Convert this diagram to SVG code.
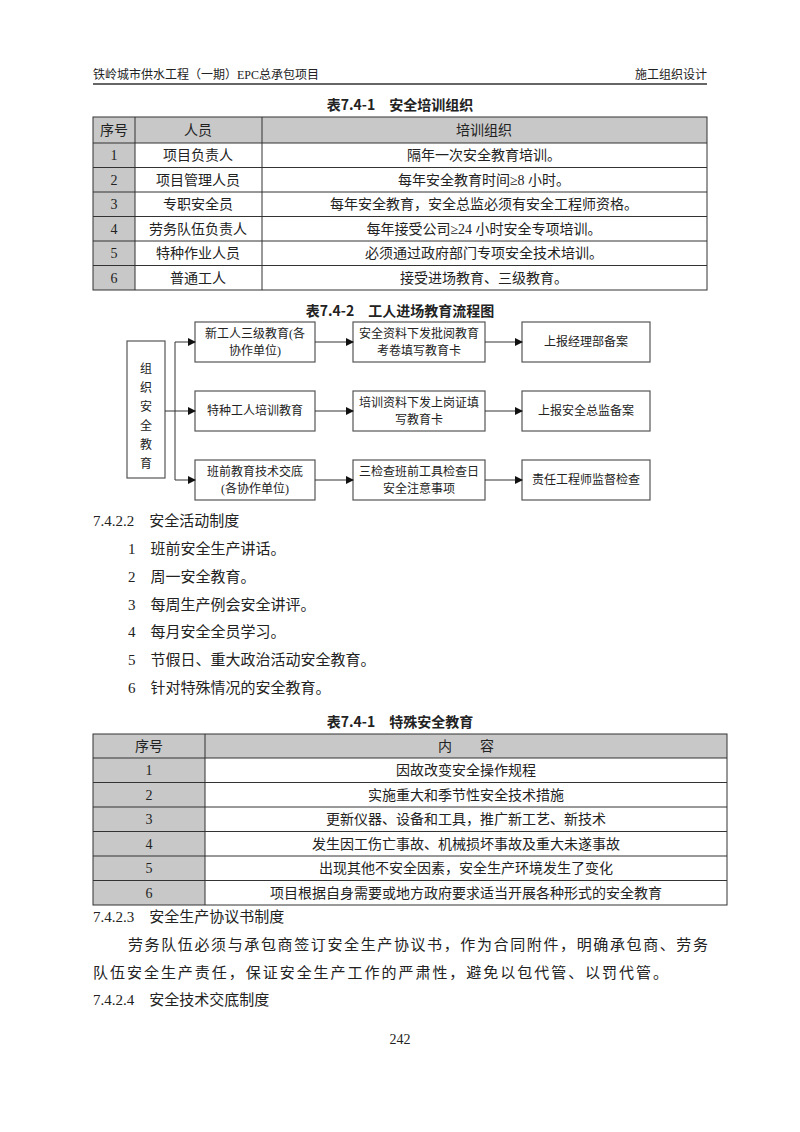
<svg xmlns="http://www.w3.org/2000/svg" width="800" height="1132" viewBox="0 0 800 1132">
<style>
text{font-family:"Liberation Serif","Noto Sans CJK SC",serif;fill:#222;font-size:14px}
.c{text-anchor:middle}
.t{font-family:"Noto Sans CJK SC",sans-serif;font-weight:bold;font-size:14px}
.h{font-size:12px}
.b{fill:#fff;stroke:#555;stroke-width:1.2}
.g{fill:#c8c8c8}
.ln{stroke:#333;stroke-width:1;fill:none}
.p{font-size:15px}
.f{font-size:12px;text-anchor:middle}
</style>
<defs><marker id="a" markerWidth="8" markerHeight="8" refX="7" refY="4" orient="auto" markerUnits="userSpaceOnUse"><path d="M0,0L8,4L0,8z" fill="#111"/></marker></defs>
<rect width="800" height="1132" fill="#fff"/>
<text x="93" y="79" class="h">铁岭城市供水工程（一期）EPC总承包项目</text>
<text x="707" y="79" class="h" text-anchor="end">施工组织设计</text>
<line x1="93" y1="84" x2="707" y2="84" stroke="#333" stroke-width="1.5"/>

<text x="400" y="110" class="c t">表7.4-1　安全培训组织</text>
<g id="table1">
<rect x="93" y="117" width="614" height="26" class="g"/>
<rect x="93" y="143" width="42" height="147" class="g"/>
<g class="ln">
<rect x="93" y="117" width="614" height="173"/>
<line x1="135" y1="117" x2="135" y2="290"/><line x1="262" y1="117" x2="262" y2="290"/>
<line x1="93" y1="143" x2="707" y2="143"/><line x1="93" y1="167.5" x2="707" y2="167.5"/><line x1="93" y1="192" x2="707" y2="192"/><line x1="93" y1="216.5" x2="707" y2="216.5"/><line x1="93" y1="241" x2="707" y2="241"/><line x1="93" y1="265.5" x2="707" y2="265.5"/>
</g>
<text x="114" y="135" class="c">序号</text><text x="198" y="135" class="c">人员</text><text x="484" y="135" class="c">培训组织</text>
<text x="114" y="160" class="c">1</text><text x="198" y="160" class="c">项目负责人</text><text x="484" y="160" class="c">隔年一次安全教育培训。</text>
<text x="114" y="185" class="c">2</text><text x="198" y="185" class="c">项目管理人员</text><text x="484" y="185" class="c">每年安全教育时间≥8 小时。</text>
<text x="114" y="209" class="c">3</text><text x="198" y="209" class="c">专职安全员</text><text x="484" y="209" class="c">每年安全教育，安全总监必须有安全工程师资格。</text>
<text x="114" y="234" class="c">4</text><text x="198" y="234" class="c">劳务队伍负责人</text><text x="484" y="234" class="c">每年接受公司≥24 小时安全专项培训。</text>
<text x="114" y="258" class="c">5</text><text x="198" y="258" class="c">特种作业人员</text><text x="484" y="258" class="c">必须通过政府部门专项安全技术培训。</text>
<text x="114" y="283" class="c">6</text><text x="198" y="283" class="c">普通工人</text><text x="484" y="283" class="c">接受进场教育、三级教育。</text>
</g>

<text x="400" y="316" class="c t">表7.4-2　工人进场教育流程图</text>
<g id="n0"><rect x="127" y="341" width="38" height="137" class="b"/>
<text x="146" y="373" class="f">组</text><text x="146" y="392" class="f">织</text><text x="146" y="411" class="f">安</text><text x="146" y="430" class="f">全</text><text x="146" y="449" class="f">教</text><text x="146" y="468" class="f">育</text></g>
<g id="n1"><rect x="195" y="322" width="120" height="40" class="b"/><text x="255" y="338" class="f">新工人三级教育(各</text><text x="255" y="355" class="f">协作单位)</text></g>
<g id="n2"><rect x="195" y="391" width="120" height="40" class="b"/><text x="255" y="415" class="f">特种工人培训教育</text></g>
<g id="n3"><rect x="195" y="460" width="120" height="40" class="b"/><text x="255" y="476" class="f">班前教育技术交底</text><text x="255" y="493" class="f">(各协作单位)</text></g>
<g id="n4"><rect x="353" y="322" width="132" height="40" class="b"/><text x="419" y="338" class="f">安全资料下发批阅教育</text><text x="419" y="355" class="f">考卷填写教育卡</text></g>
<g id="n5"><rect x="353" y="391" width="132" height="40" class="b"/><text x="419" y="407" class="f">培训资料下发上岗证填</text><text x="419" y="424" class="f">写教育卡</text></g>
<g id="n6"><rect x="353" y="460" width="132" height="40" class="b"/><text x="419" y="476" class="f">三检查班前工具检查日</text><text x="419" y="493" class="f">安全注意事项</text></g>
<g id="n7"><rect x="522" y="322" width="128" height="40" class="b"/><text x="586" y="346" class="f">上报经理部备案</text></g>
<g id="n8"><rect x="522" y="391" width="128" height="40" class="b"/><text x="586" y="415" class="f">上报安全总监备案</text></g>
<g id="n9"><rect x="522" y="460" width="128" height="40" class="b"/><text x="586" y="484" class="f">责任工程师监督检查</text></g>
<g id="connectors" class="ln">
<path d="M165,411H195" marker-end="url(#a)"/>
<path d="M175,342V480"/>
<path d="M175,342H195" marker-end="url(#a)"/>
<path d="M175,480H195" marker-end="url(#a)"/>
<path d="M315,342H353" marker-end="url(#a)"/>
<path d="M315,411H353" marker-end="url(#a)"/>
<path d="M315,480H353" marker-end="url(#a)"/>
<path d="M485,342H522" marker-end="url(#a)"/>
<path d="M485,411H522" marker-end="url(#a)"/>
<path d="M485,480H522" marker-end="url(#a)"/>
</g>

<text x="93" y="526" class="p">7.4.2.2　安全活动制度</text>
<text x="128" y="554" class="p">1　班前安全生产讲话。</text>
<text x="128" y="582" class="p">2　周一安全教育。</text>
<text x="128" y="610" class="p">3　每周生产例会安全讲评。</text>
<text x="128" y="637" class="p">4　每月安全全员学习。</text>
<text x="128" y="665" class="p">5　节假日、重大政治活动安全教育。</text>
<text x="128" y="693" class="p">6　针对特殊情况的安全教育。</text>

<text x="400" y="727" class="c t">表7.4-1　特殊安全教育</text>
<g id="table2">
<rect x="93" y="734" width="634" height="24" class="g"/>
<rect x="93" y="758" width="112" height="147" class="g"/>
<g class="ln">
<rect x="93" y="734" width="634" height="171"/>
<line x1="205" y1="734" x2="205" y2="905"/>
<line x1="93" y1="758" x2="727" y2="758"/><line x1="93" y1="782.5" x2="727" y2="782.5"/><line x1="93" y1="807" x2="727" y2="807"/><line x1="93" y1="831.5" x2="727" y2="831.5"/><line x1="93" y1="856" x2="727" y2="856"/><line x1="93" y1="880.5" x2="727" y2="880.5"/>
</g>
<text x="149" y="751" class="c">序号</text><text x="466" y="751" class="c">内　　容</text>
<text x="149" y="775" class="c">1</text><text x="466" y="775" class="c">因故改变安全操作规程</text>
<text x="149" y="800" class="c">2</text><text x="466" y="800" class="c">实施重大和季节性安全技术措施</text>
<text x="149" y="824" class="c">3</text><text x="466" y="824" class="c">更新仪器、设备和工具，推广新工艺、新技术</text>
<text x="149" y="849" class="c">4</text><text x="466" y="849" class="c">发生因工伤亡事故、机械损坏事故及重大未遂事故</text>
<text x="149" y="873" class="c">5</text><text x="466" y="873" class="c">出现其他不安全因素，安全生产环境发生了变化</text>
<text x="149" y="898" class="c">6</text><text x="466" y="898" class="c">项目根据自身需要或地方政府要求适当开展各种形式的安全教育</text>
</g>
<text x="93" y="922" class="p">7.4.2.3　安全生产协议书制度</text>
<text x="128" y="950" class="p" textLength="580" lengthAdjust="spacing">劳务队伍必须与承包商签订安全生产协议书，作为合同附件，明确承包商、劳务</text>
<text x="93" y="978" class="p" textLength="575" lengthAdjust="spacing">队伍安全生产责任，保证安全生产工作的严肃性，避免以包代管、以罚代管。</text>
<text x="93" y="1005" class="p">7.4.2.4　安全技术交底制度</text>
<text x="400" y="1044" class="c" font-size="11">242</text>
</svg>
